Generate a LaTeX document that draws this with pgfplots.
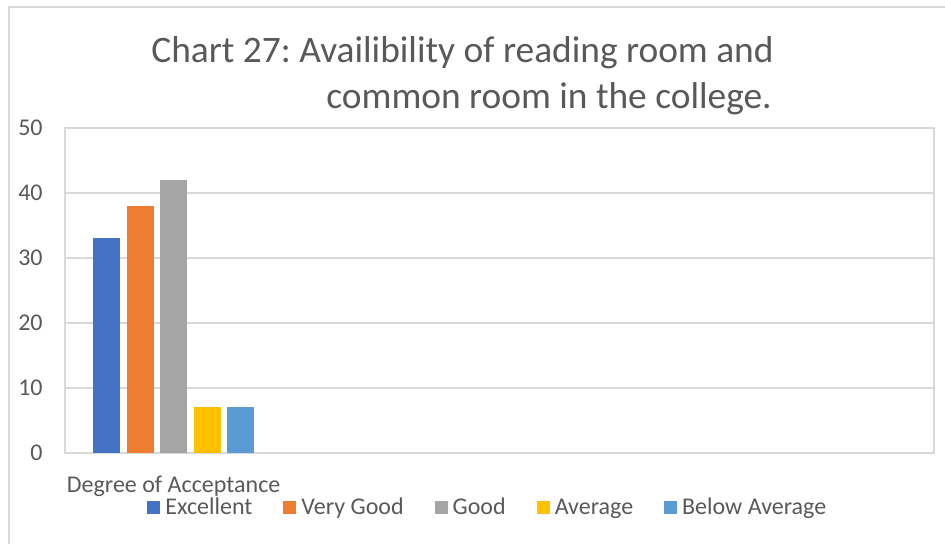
\documentclass[border=0pt]{standalone}
\usepackage{fontspec}
\setmainfont{Carlito}
\usepackage{pgfplots}
\pgfplotsset{compat=1.18}
\frenchspacing
\definecolor{txt}{HTML}{595959}
\definecolor{gridc}{HTML}{D9D9D9}
\definecolor{cA}{HTML}{4472C4}
\definecolor{cB}{HTML}{ED7D31}
\definecolor{cC}{HTML}{A5A5A5}
\definecolor{cD}{HTML}{FFC000}
\definecolor{cE}{HTML}{5B9BD5}
\begin{document}
\begin{tikzpicture}[x=1pt,y=1pt]
\useasboundingbox (0,0) rectangle (472.5,272);
\draw[gridc, line width=1pt] (4.5,-5) -- (4.5,268.5) -- (480,268.5);
\node[anchor=base west, inner sep=0pt, font=\fontsize{18.7}{22}\selectfont, text=txt] at (75.5,240.6) {Chart 27: Availibility of reading room and};
\node[anchor=base west, inner sep=0pt, font=\fontsize{18.7}{22}\selectfont, text=txt] at (163,217.8) {common room in the college.};
\begin{axis}[
  at={(32.5pt,45.5pt)}, anchor=south west,
  scale only axis, width=434.5pt, height=162.5pt,
  xmin=-0.5, xmax=3.5, ymin=0, ymax=50,
  ytick={0,10,...,50}, xtick={0}, xticklabels={Degree of Acceptance},
  ybar=3.25pt, bar width=13.5pt,
  axis line style={gridc, line width=0.75pt},
  ymajorgrids, major grid style={gridc, line width=0.75pt},
  tick style={draw=none},
  /pgf/number format/assume math mode=true,
  yticklabel style={font=\fontsize{12}{14}\selectfont, text=txt, anchor=east, inner sep=0pt, xshift=-11pt},
  xticklabel style={font=\fontsize{12}{14}\selectfont, text=txt, anchor=base, inner sep=0pt, yshift=-15.5pt},
  legend columns=5,
  legend image code/.code={\fill[#1] (0pt,-3.25pt) rectangle (6.5pt,3.25pt);},
  legend style={at={(axis description cs:0.0944,-0.169)}, anchor=west, draw=none, fill=none, inner sep=0pt,
    font=\fontsize{12}{14}\selectfont, text=txt, nodes={inner sep=0pt},
    /tikz/every odd column/.append style={column sep=2.5pt},
    /tikz/every even column/.append style={column sep=15.5pt}},
]
\addplot[fill=cA, draw=none] coordinates {(0,33)};
\addplot[fill=cB, draw=none] coordinates {(0,38)};
\addplot[fill=cC, draw=none] coordinates {(0,42)};
\addplot[fill=cD, draw=none] coordinates {(0,7)};
\addplot[fill=cE, draw=none] coordinates {(0,7)};
\legend{Excellent, Very Good, Good, Average, Below Average}
\end{axis}
\end{tikzpicture}
\end{document}
